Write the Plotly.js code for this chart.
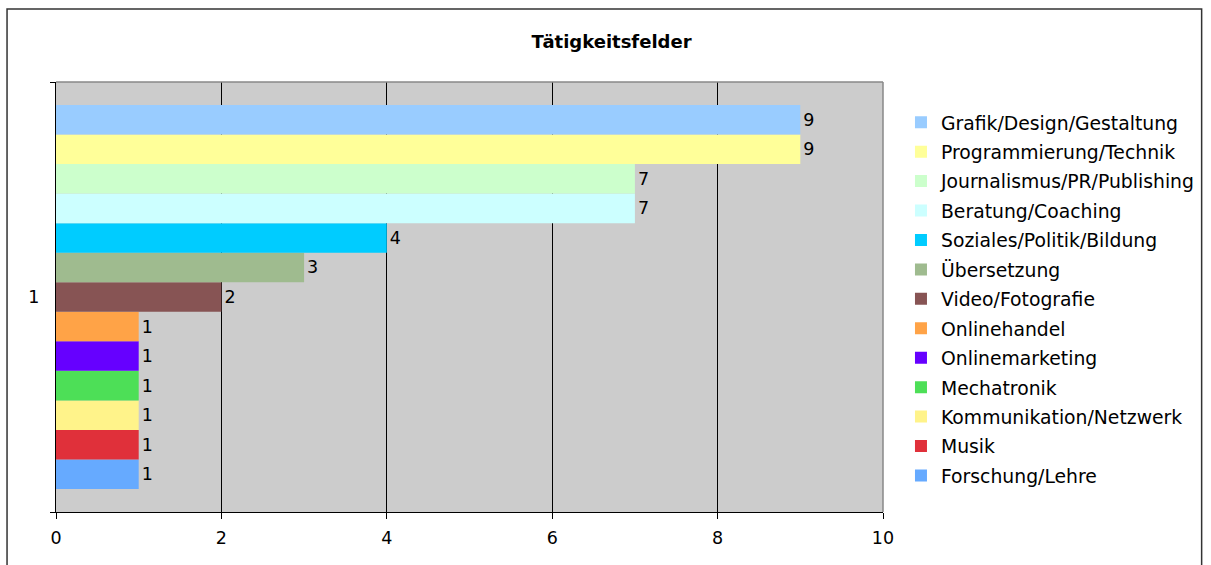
<!DOCTYPE html>
<html><head><meta charset="utf-8">
<script src="https://cdn.plot.ly/plotly-3.0.1.min.js"></script>
<style>html,body{margin:0;padding:0;background:#fff}#chart{width:1211px;height:565px}</style>
</head><body><div id="chart"></div>
<script>
var categories = ["Grafik/Design/Gestaltung","Programmierung/Technik","Journalismus/PR/Publishing","Beratung/Coaching","Soziales/Politik/Bildung","Übersetzung","Video/Fotografie","Onlinehandel","Onlinemarketing","Mechatronik","Kommunikation/Netzwerk","Musik","Forschung/Lehre"];
var values = [9,9,7,7,4,3,2,1,1,1,1,1,1];
var colors = ["#99ccff","#ffff99","#ccffcc","#ccffff","#00ccff","#9fbb8f","#875454","#ffa347","#6600ff","#4ddf57","#fff38a","#e0303a","#66aaff"];
var groupLabel = ["1"];

var traces = [];
for (var i = categories.length - 1; i >= 0; i--) {
  traces.push({
    type: "bar", orientation: "h",
    name: categories[i],
    legendgroup: "g" + i,
    legendrank: i + 1,
    y: groupLabel, x: [values[i]],
    text: [String(values[i])], textposition: "outside",
    textfont: {family: "DejaVu Sans, Verdana, sans-serif", size: 17.5, color: "#000"},
    cliponaxis: false,
    marker: {color: colors[i], line: {width: 0}},
    hoverinfo: "name+x"
  });
}

var layout = {
  width: 1211, height: 565,
  margin: {l: 56, r: 327, t: 82, b: 53},
  paper_bgcolor: "#ffffff", plot_bgcolor: "#cccccc",
  barmode: "group", bargap: 0.107, bargroupgap: 0,
  font: {family: "DejaVu Sans, Verdana, sans-serif", size: 17.5, color: "#000"},
  title: {text: "<b>Tätigkeitsfelder</b>", x: 0.505, xanchor: "center", y: 0.926, yanchor: "middle",
          font: {size: 18, color: "#000"}},
  xaxis: {range: [0, 10], tickvals: [0,2,4,6,8,10], ticktext: ["0","2","4","6","8","10"],
          showgrid: true, gridcolor: "#000", gridwidth: 1, zeroline: false,
          showline: true, linecolor: "#000", linewidth: 1,
          ticks: "outside", ticklen: 6, tickcolor: "#000", tickfont: {size: 17.5}, ticklabelstandoff: 4, fixedrange: true},
  yaxis: {type: "category", showgrid: false, zeroline: false,
          showline: true, linecolor: "#000", linewidth: 1,
          ticks: "outside", tickson: "boundaries", ticklen: 5, tickcolor: "#000",
          tickfont: {size: 17.5}, ticklabelstandoff: 12, fixedrange: true},
  showlegend: true,
  legend: {traceorder: "grouped", tracegroupgap: 2, x: 1.0205, xanchor: "left", y: 0.95, yanchor: "top",
           font: {size: 18.8, color: "#000"}, bgcolor: "rgba(0,0,0,0)", itemwidth: 30},
  shapes: [
    {type: "line", xref: "paper", yref: "paper", x0: 0, x1: 1, y0: 1, y1: 1, line: {color: "#888", width: 1.5}, layer: "above"},
    {type: "line", xref: "paper", yref: "paper", x0: 1, x1: 1, y0: 0, y1: 1, line: {color: "#888", width: 1.5}, layer: "above"},
    {type: "rect", xref: "paper", yref: "paper", x0: -0.0592, x1: 1.3853, y0: -0.2, y1: 1.1698, line: {color: "#333", width: 1.5}, layer: "below"}
  ]
};

Plotly.newPlot("chart", traces, layout, {displayModeBar: false, staticPlot: true});
</script></body></html>
